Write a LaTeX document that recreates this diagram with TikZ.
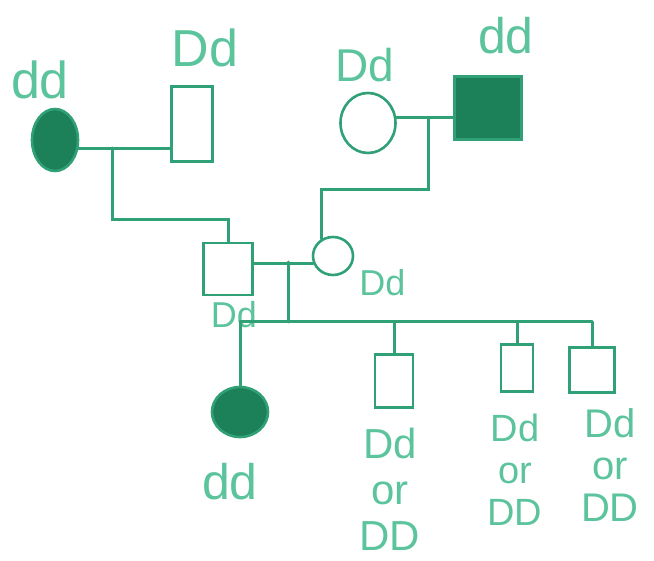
\documentclass[tikz,border=0pt]{standalone}
\usepackage{fontspec}
\setmainfont{Liberation Sans}
\usetikzlibrary{positioning, shapes.geometric}
\definecolor{pen}{RGB}{48,160,118}
\definecolor{ink}{RGB}{92,196,156}
\definecolor{shade}{RGB}{28,128,88}

\begin{document}
\begin{tikzpicture}[
        x=1pt, y=-1pt,
        every node/.style={
            align=center,
            inner sep=0pt
        },
        male/.style={
            draw=pen,
            line width=2.6pt,
            rectangle
        },
        female/.style={
            draw=pen,
            line width=2.6pt,
            ellipse
        },
        affected/.style={
            fill=shade
        },
        geno/.style={
            text=ink,
            font=\fontsize{52}{56}\selectfont
        },
        genosmall/.style={
            text=ink,
            font=\fontsize{36}{40}\selectfont
        },
        link/.style={
            draw=pen,
            line width=3pt,
            line cap=round
        }
    ]

    \useasboundingbox (0,0) rectangle (654,561);

    \node[female, affected, minimum width=46pt, minimum height=62pt] (granma1) at (55,140) {};
    \node[male, minimum width=41pt, minimum height=75pt] (granpa1) at (192,124) {};
    \node[female, minimum width=55pt, minimum height=60pt] (granma2) at (368,123) {};
    \node[male, affected, minimum width=67pt, minimum height=63pt] (granpa2) at (488,108) {};

    \node[male, minimum width=49pt, minimum height=52pt] (father) at (228,269) {};
    \node[female, minimum width=40pt, minimum height=38pt] (mother) at (333,256) {};

    \node[female, affected, minimum width=56pt, minimum height=50pt] (kid1) at (240,412) {};
    \node[male, minimum width=38pt, minimum height=53pt] (kid2) at (394,381) {};
    \node[male, minimum width=32pt, minimum height=47pt] (kid3) at (517,368) {};
    \node[male, minimum width=45pt, minimum height=45pt] (kid4) at (592,370) {};

    \node[geno, above=8pt of granma1, xshift=-15pt] (gGranma1) {dd};
    \node[geno, above=18pt of granpa1, xshift=13pt] (gGranpa1) {Dd};
    \node[geno, font=\fontsize{46}{50}\selectfont, above=10pt of granma2, xshift=-3pt] (gGranma2) {Dd};
    \node[geno, font=\fontsize{50}{54}\selectfont, above=21pt of granpa2, xshift=18pt] (gGranpa2) {dd};
    \node[genosmall, below=5pt of father, xshift=6pt] (gFather) {Dd};
    \node[genosmall, below right=-1pt and 11pt of mother] (gMother) {Dd};
    \node[geno, font=\fontsize{50}{54}\selectfont, below=25pt of kid1, xshift=-10pt] (gKid1) {dd};
    \node[geno, font=\fontsize{42}{46}\selectfont, below=19pt of kid2, xshift=-4pt] (gKid2) {Dd\\or\\DD};
    \node[geno, font=\fontsize{38}{42}\selectfont, below=21pt of kid3, xshift=-2pt] (gKid3) {Dd\\or\\DD};
    \node[geno, font=\fontsize{40}{42}\selectfont, below=15pt of kid4, xshift=18pt] (gKid4) {Dd\\or\\DD};

    \coordinate (mate1) at (112,148);
    \coordinate (mate2) at (428,118);
    \coordinate (mate3) at (288,262);
    \coordinate (sib) at (0,322);

    \draw[link] (granma1.-20) -- (granma1.-20 -| granpa1.west);
    \draw[link] (mate1) -- ++(0,72) -| (father.north);

    \draw[link] (granma2.10) -- (granma2.10 -| granpa2.west);
    \draw[link] (mate2) -- ++(0,72) -| (mother.125);

    \draw[link] (father.east |- mother.200) -- (mother.200);
    \draw[link] (mate3) -- (mate3 |- sib);

    \draw[link] (kid1.north |- sib) -- (kid4.north |- sib);
    \foreach \k in {kid1,kid2,kid3,kid4}
        \draw[link] (\k.north |- sib) -- (\k.north);

\end{tikzpicture}
\end{document}
